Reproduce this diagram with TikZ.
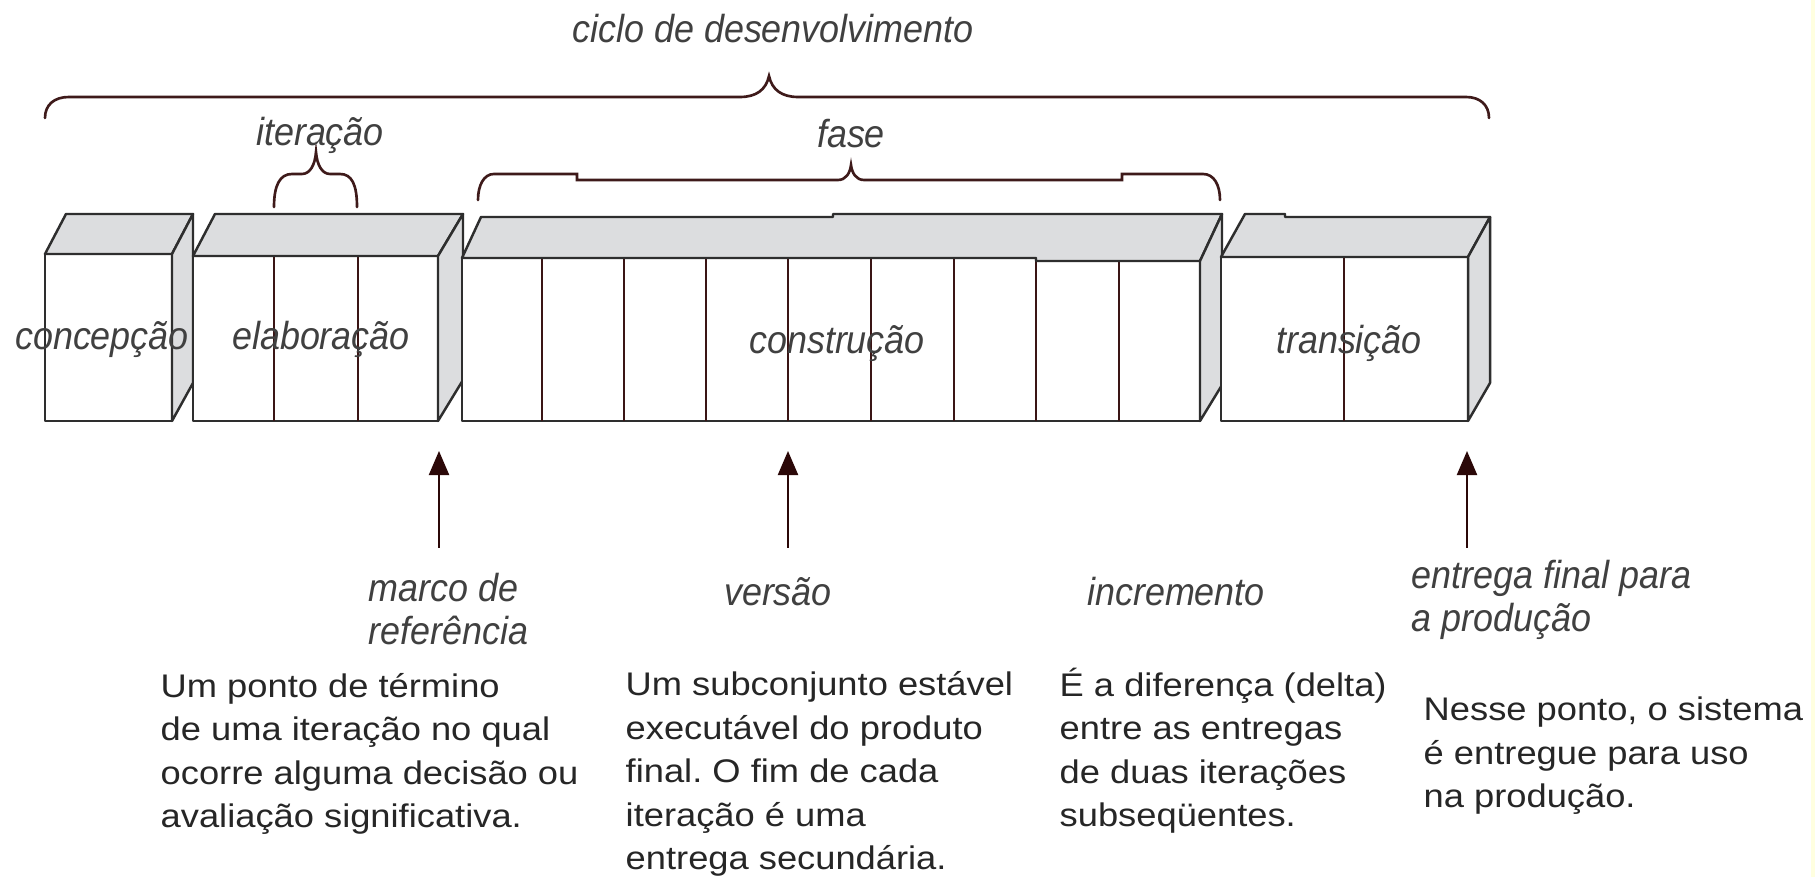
\documentclass[tikz,border=0pt]{standalone}
\usepackage{fontspec}
\setmainfont{Liberation Sans}
\newfontfamily\bodyfont{Liberation Sans}[FakeStretch=1.11]
\newfontfamily\labfont{Liberation Sans}[FakeStretch=0.92]
\usetikzlibrary{arrows.meta}
\frenchspacing
\definecolor{facegray}{HTML}{DCDDDF}
\definecolor{edge}{HTML}{2E2E2E}
\definecolor{sepcol}{HTML}{3A1515}
\definecolor{bracecol}{HTML}{3E1A1A}
\definecolor{arrcol}{HTML}{2B0808}
\definecolor{labcol}{HTML}{404040}
\definecolor{bodycol}{HTML}{262626}
\definecolor{stripcol}{HTML}{FFFFE0}
\tikzset{
  front/.style={fill=white, draw=edge, line width=0.7pt, line join=round},
  face/.style={fill=facegray, draw=edge, line width=0.7pt, line join=round},
  sep/.style={draw=sepcol, line width=0.55pt},
  brace/.style={draw=bracecol, line width=0.75pt, line cap=round},
  arr/.style={draw=arrcol, line width=0.6pt, -{Triangle[length=0.24cm,width=0.2cm]}},
  lab/.style={inner sep=0pt, text=labcol, align=left, font=\labfont\itshape\fontsize{11.1}{12.4}\selectfont},
  body/.style={inner sep=0pt, text=bodycol, align=left, font=\bodyfont\fontsize{9.3}{12.4}\selectfont},
}
\begin{document}
\begin{tikzpicture}[x=0.01cm,y=-0.01cm]
\fill[white] (0,0) rectangle (1815,877);
\fill[stripcol] (1811,0) rectangle (1815,877);
\useasboundingbox (0,0) rectangle (1815,877);

% ---- concepcao
\draw[front] (45,254) rectangle (172,421);
\draw[face] (45,254) -- (66,214) -- (193,214) -- (172,254) -- cycle;
\draw[face] (172,254) -- (193,214) -- (193,383) -- (172,421) -- cycle;

% ---- elaboracao
\draw[front] (193,256) rectangle (438,421);
\draw[sep] (274,256) -- (274,421);
\draw[sep] (358,256) -- (358,421);
\draw[face] (193,256) -- (215,214) -- (463,214) -- (438,256) -- cycle;
\draw[face] (438,256) -- (463,214) -- (463,380) -- (438,421) -- cycle;

% ---- construcao
\draw[front] (462,258) -- (1036,258) -- (1036,261) -- (1200,261) -- (1200,421) -- (462,421) -- cycle;
\foreach \x in {542,624,706,788,871,954,1036}{\draw[sep] (\x,258) -- (\x,421);}
\draw[sep] (1119,261) -- (1119,421);
\draw[face] (462,258) -- (481,217) -- (833,217) -- (833,214) -- (1222,214) -- (1200,261) -- (1036,261) -- (1036,258) -- cycle;
\draw[face] (1200,261) -- (1222,214) -- (1222,385) -- (1200,421) -- cycle;

% ---- transicao
\draw[front] (1221,257) rectangle (1468,421);
\draw[sep] (1344,257) -- (1344,421);
\draw[face] (1221,257) -- (1245,214) -- (1285,214) -- (1285,217) -- (1490,217) -- (1468,257) -- cycle;
\draw[face] (1468,257) -- (1490,217) -- (1490,383) -- (1468,421) -- cycle;

% ---- box labels
\node[lab, anchor=base] (lconc) at (102,350) {concepção};
\node[lab, anchor=base] (lelab) at (321,350) {elaboração};
\node[lab, anchor=base] (lcons) at (837,354) {construção};
\node[lab, anchor=base] (ltran) at (1349,354) {transição};

% ---- braces
\draw[brace] (45,118) .. controls (45,105) and (54,97) .. (69,97) -- (740,97)
  .. controls (756,97) and (766,90) .. (769,76) .. controls (772,90) and (782,97) .. (798,97)
  -- (1466,97) .. controls (1480,97) and (1489,105) .. (1489,118);
\draw[brace] (274,207) .. controls (274,185) and (280,174) .. (292,174) -- (302,174)
  .. controls (310,174) and (315,165) .. (316,152) .. controls (317,165) and (322,174) .. (330,174)
  -- (340,174) .. controls (352,174) and (357,185) .. (357,207);
\draw[brace] (478,200) .. controls (478,185) and (484,174) .. (494,174) -- (577,174) -- (577,180) -- (838,180)
  .. controls (846,180) and (850,173) .. (851,165) .. controls (852,173) and (856,180) .. (864,180)
  -- (1122,180) -- (1122,174) -- (1203,174) .. controls (1214,174) and (1220,185) .. (1220,200);

\node[lab, anchor=base] (tciclo) at (773,43) {ciclo de desenvolvimento};
\node[lab, anchor=base] (titer) at (320,146) {iteração};
\node[lab, anchor=base] (tfase) at (851,148) {fase};

% ---- arrows
\coordinate (a1s) at (439,548); \coordinate (a1e) at (439,451);
\coordinate (a2s) at (788,548); \coordinate (a2e) at (788,451);
\coordinate (a3s) at (1467,548); \coordinate (a3e) at (1467,451);
\draw[arr] (a1s) -- (a1e);
\draw[arr] (a2s) -- (a2e);
\draw[arr] (a3s) -- (a3e);

% ---- labels under arrows (base = baseline of last line)
\node[lab, anchor=base west] (lmarco) at (368,645) {marco de\\referência};
\node[lab, anchor=base] (lversao) at (778,606) {versão};
\node[lab, anchor=base] (lincr) at (1176,606) {incremento};
\node[lab, anchor=base west] (lfinal) at (1411,632) {entrega final para\\a produção};

% ---- descriptions (base = baseline of last line)
\node[body, anchor=base west] (d1) at (160,828) {Um ponto de término\\de uma iteração no qual\\ocorre alguma decisão ou\\avaliação significativa.};
\node[body, anchor=base west] (d2) at (625,870) {Um subconjunto estável\\executável do produto\\final. O fim de cada\\iteração é uma\\entrega secundária.};
\node[body, anchor=base west] (d3) at (1059,827) {É a diferença (delta)\\entre as entregas\\de duas iterações\\subseqüentes.};
\node[body, anchor=base west] (d4) at (1423,808) {Nesse ponto, o sistema\\é entregue para uso\\na produção.};
\end{tikzpicture}
\end{document}
